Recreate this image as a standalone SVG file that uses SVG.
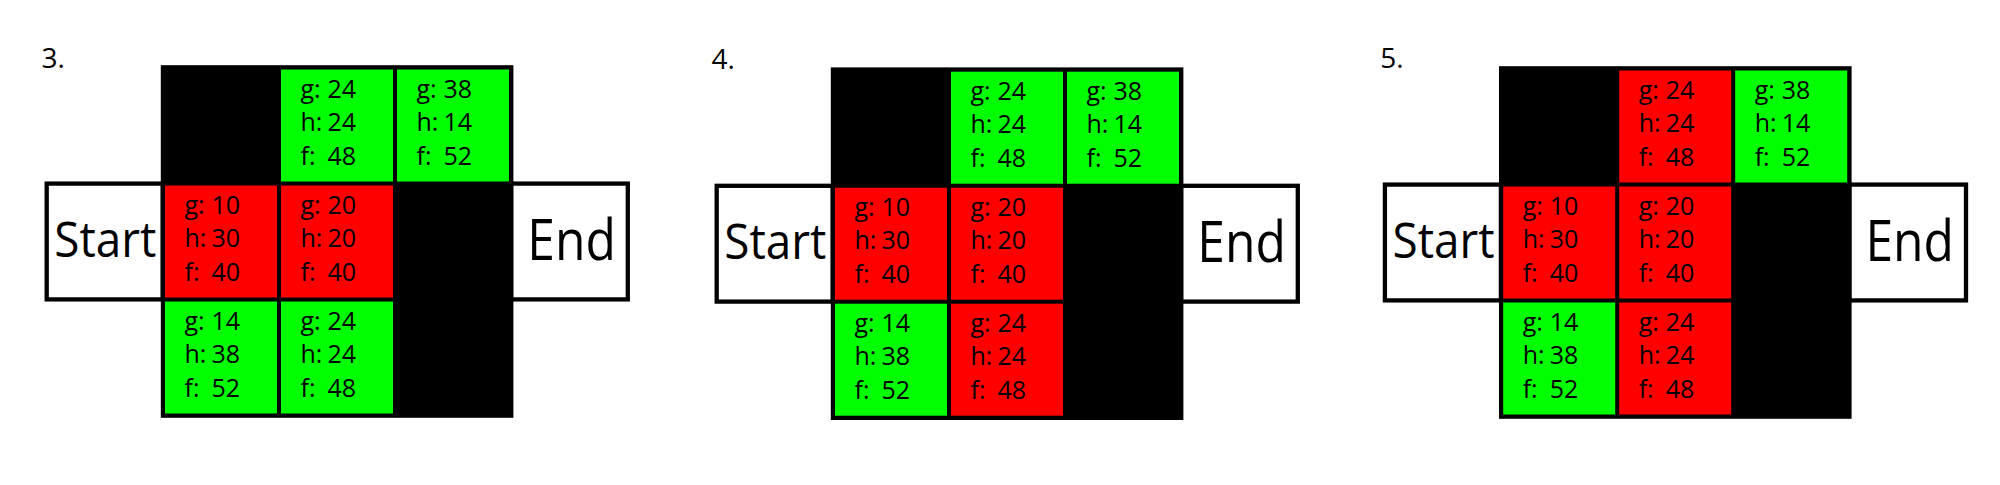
<svg xmlns="http://www.w3.org/2000/svg" width="2000" height="485" viewBox="0 0 2000 485">
<style>
.bg{fill:#ffffff}
.grid{fill:#000000}
.wall{fill:#000000}
.open{fill:#00ff00}
.closed{fill:#ff0000}
.term{fill:#ffffff;stroke:#000000;stroke-width:4.3}
.t{font-family:"Open Sans","Noto Sans","Liberation Sans",sans-serif;font-size:25px;fill:#000000}
.big{font-family:"Open Sans","Noto Sans","Liberation Sans",sans-serif;fill:#000000}
.step{font-family:"Open Sans","Noto Sans","Liberation Sans",sans-serif;font-size:28px;fill:#000000}
</style>
<defs>
<g id="stdStart">
<rect class="term" x="46.7" y="183.6" width="116" height="115.8"/>
<text class="big" x="54.3" y="256.7" font-size="49" textLength="102" lengthAdjust="spacingAndGlyphs">Start</text>
</g>
<g id="stdEnd">
<rect class="term" x="511" y="183.6" width="116.8" height="115.8"/>
<text class="big" x="527.3" y="260" font-size="56" textLength="88.5" lengthAdjust="spacingAndGlyphs">End</text>
</g>
</defs>
<rect class="bg" x="0" y="0" width="2000" height="485"/>
<g id="connectors"/>

<!-- Panel 3 -->
<g id="panel3">
<text class="step" x="41.5" y="67.8">3.</text>
<g id="p3-start"><use href="#stdStart"/></g>
<g id="p3-end"><use href="#stdEnd"/></g>
<rect class="grid" x="160.8" y="65.2" width="352.6" height="352.6"/>
<g id="p3-r0c0"><rect class="wall" x="165" y="69.5" width="112" height="112"/></g>
<g id="p3-r0c1"><rect class="open" x="281" y="69.5" width="112" height="112"/>
<text class="t" x="300.5" y="97.5">g: <tspan x="327.5">24</tspan></text>
<text class="t" x="300.5" y="131">h: <tspan x="327.5">24</tspan></text>
<text class="t" x="300.5" y="165">f: <tspan x="327.5">48</tspan></text></g>
<g id="p3-r0c2"><rect class="open" x="397" y="69.5" width="112" height="112"/>
<text class="t" x="416.5" y="97.5">g: <tspan x="443.5">38</tspan></text>
<text class="t" x="416.5" y="131">h: <tspan x="443.5">14</tspan></text>
<text class="t" x="416.5" y="165">f: <tspan x="443.5">52</tspan></text></g>
<g id="p3-r1c0"><rect class="closed" x="165" y="185.5" width="112" height="112"/>
<text class="t" x="184.5" y="213.5">g: <tspan x="211.5">10</tspan></text>
<text class="t" x="184.5" y="247">h: <tspan x="211.5">30</tspan></text>
<text class="t" x="184.5" y="281">f: <tspan x="211.5">40</tspan></text></g>
<g id="p3-r1c1"><rect class="closed" x="281" y="185.5" width="112" height="112"/>
<text class="t" x="300.5" y="213.5">g: <tspan x="327.5">20</tspan></text>
<text class="t" x="300.5" y="247">h: <tspan x="327.5">20</tspan></text>
<text class="t" x="300.5" y="281">f: <tspan x="327.5">40</tspan></text></g>
<g id="p3-r1c2"><rect class="wall" x="397" y="185.5" width="112" height="112"/></g>
<g id="p3-r2c0"><rect class="open" x="165" y="301.5" width="112" height="112"/>
<text class="t" x="184.5" y="329.5">g: <tspan x="211.5">14</tspan></text>
<text class="t" x="184.5" y="363">h: <tspan x="211.5">38</tspan></text>
<text class="t" x="184.5" y="397">f: <tspan x="211.5">52</tspan></text></g>
<g id="p3-r2c1"><rect class="open" x="281" y="301.5" width="112" height="112"/>
<text class="t" x="300.5" y="329.5">g: <tspan x="327.5">24</tspan></text>
<text class="t" x="300.5" y="363">h: <tspan x="327.5">24</tspan></text>
<text class="t" x="300.5" y="397">f: <tspan x="327.5">48</tspan></text></g>
<g id="p3-r2c2"><rect class="wall" x="397" y="301.5" width="112" height="112"/></g>
</g>

<!-- Panel 4 -->
<g id="panel4" transform="translate(670,2.2)">
<text class="step" x="41.5" y="67.1">4.</text>
<g id="p4-start"><use href="#stdStart"/></g>
<g id="p4-end"><use href="#stdEnd"/></g>
<rect class="grid" x="160.8" y="65.2" width="352.6" height="352.6"/>
<g id="p4-r0c0"><rect class="wall" x="165" y="69.5" width="112" height="112"/></g>
<g id="p4-r0c1"><rect class="open" x="281" y="69.5" width="112" height="112"/>
<text class="t" x="300.5" y="97.5">g: <tspan x="327.5">24</tspan></text>
<text class="t" x="300.5" y="131">h: <tspan x="327.5">24</tspan></text>
<text class="t" x="300.5" y="165">f: <tspan x="327.5">48</tspan></text></g>
<g id="p4-r0c2"><rect class="open" x="397" y="69.5" width="112" height="112"/>
<text class="t" x="416.5" y="97.5">g: <tspan x="443.5">38</tspan></text>
<text class="t" x="416.5" y="131">h: <tspan x="443.5">14</tspan></text>
<text class="t" x="416.5" y="165">f: <tspan x="443.5">52</tspan></text></g>
<g id="p4-r1c0"><rect class="closed" x="165" y="185.5" width="112" height="112"/>
<text class="t" x="184.5" y="213.5">g: <tspan x="211.5">10</tspan></text>
<text class="t" x="184.5" y="247">h: <tspan x="211.5">30</tspan></text>
<text class="t" x="184.5" y="281">f: <tspan x="211.5">40</tspan></text></g>
<g id="p4-r1c1"><rect class="closed" x="281" y="185.5" width="112" height="112"/>
<text class="t" x="300.5" y="213.5">g: <tspan x="327.5">20</tspan></text>
<text class="t" x="300.5" y="247">h: <tspan x="327.5">20</tspan></text>
<text class="t" x="300.5" y="281">f: <tspan x="327.5">40</tspan></text></g>
<g id="p4-r1c2"><rect class="wall" x="397" y="185.5" width="112" height="112"/></g>
<g id="p4-r2c0"><rect class="open" x="165" y="301.5" width="112" height="112"/>
<text class="t" x="184.5" y="329.5">g: <tspan x="211.5">14</tspan></text>
<text class="t" x="184.5" y="363">h: <tspan x="211.5">38</tspan></text>
<text class="t" x="184.5" y="397">f: <tspan x="211.5">52</tspan></text></g>
<g id="p4-r2c1"><rect class="closed" x="281" y="301.5" width="112" height="112"/>
<text class="t" x="300.5" y="329.5">g: <tspan x="327.5">24</tspan></text>
<text class="t" x="300.5" y="363">h: <tspan x="327.5">24</tspan></text>
<text class="t" x="300.5" y="397">f: <tspan x="327.5">48</tspan></text></g>
<g id="p4-r2c2"><rect class="wall" x="397" y="301.5" width="112" height="112"/></g>
</g>

<!-- Panel 5 -->
<g id="panel5" transform="translate(1338.2,1)">
<text class="step" x="42" y="67.3">5.</text>
<g id="p5-start"><use href="#stdStart"/></g>
<g id="p5-end"><use href="#stdEnd"/></g>
<rect class="grid" x="160.8" y="65.2" width="352.6" height="352.6"/>
<g id="p5-r0c0"><rect class="wall" x="165" y="69.5" width="112" height="112"/></g>
<g id="p5-r0c1"><rect class="closed" x="281" y="69.5" width="112" height="112"/>
<text class="t" x="300.5" y="97.5">g: <tspan x="327.5">24</tspan></text>
<text class="t" x="300.5" y="131">h: <tspan x="327.5">24</tspan></text>
<text class="t" x="300.5" y="165">f: <tspan x="327.5">48</tspan></text></g>
<g id="p5-r0c2"><rect class="open" x="397" y="69.5" width="112" height="112"/>
<text class="t" x="416.5" y="97.5">g: <tspan x="443.5">38</tspan></text>
<text class="t" x="416.5" y="131">h: <tspan x="443.5">14</tspan></text>
<text class="t" x="416.5" y="165">f: <tspan x="443.5">52</tspan></text></g>
<g id="p5-r1c0"><rect class="closed" x="165" y="185.5" width="112" height="112"/>
<text class="t" x="184.5" y="213.5">g: <tspan x="211.5">10</tspan></text>
<text class="t" x="184.5" y="247">h: <tspan x="211.5">30</tspan></text>
<text class="t" x="184.5" y="281">f: <tspan x="211.5">40</tspan></text></g>
<g id="p5-r1c1"><rect class="closed" x="281" y="185.5" width="112" height="112"/>
<text class="t" x="300.5" y="213.5">g: <tspan x="327.5">20</tspan></text>
<text class="t" x="300.5" y="247">h: <tspan x="327.5">20</tspan></text>
<text class="t" x="300.5" y="281">f: <tspan x="327.5">40</tspan></text></g>
<g id="p5-r1c2"><rect class="wall" x="397" y="185.5" width="112" height="112"/></g>
<g id="p5-r2c0"><rect class="open" x="165" y="301.5" width="112" height="112"/>
<text class="t" x="184.5" y="329.5">g: <tspan x="211.5">14</tspan></text>
<text class="t" x="184.5" y="363">h: <tspan x="211.5">38</tspan></text>
<text class="t" x="184.5" y="397">f: <tspan x="211.5">52</tspan></text></g>
<g id="p5-r2c1"><rect class="closed" x="281" y="301.5" width="112" height="112"/>
<text class="t" x="300.5" y="329.5">g: <tspan x="327.5">24</tspan></text>
<text class="t" x="300.5" y="363">h: <tspan x="327.5">24</tspan></text>
<text class="t" x="300.5" y="397">f: <tspan x="327.5">48</tspan></text></g>
<g id="p5-r2c2"><rect class="wall" x="397" y="301.5" width="112" height="112"/></g>
</g>
</svg>
